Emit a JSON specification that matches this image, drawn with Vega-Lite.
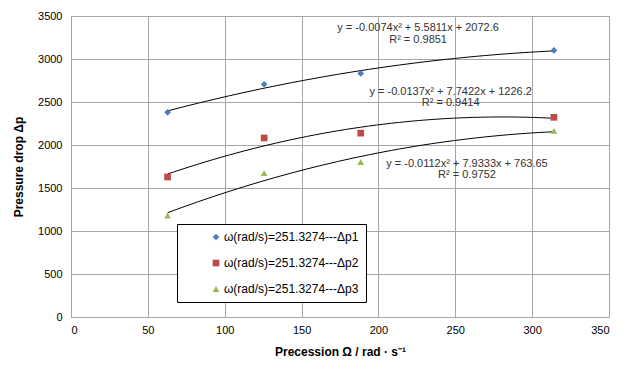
{
  "$schema": "https://vega.github.io/schema/vega-lite/v6.json",
  "width": 538,
  "height": 301,
  "autosize": {"type": "none"},
  "padding": {"left": 71, "top": 16, "right": 26, "bottom": 61},
  "background": "white",
  "config": {
    "font": "Liberation Sans",
    "view": {"stroke": "#8c8c8c", "strokeWidth": 1},
    "axis": {
      "domain": false,
      "ticks": false,
      "grid": true,
      "gridColor": "#a6a6a6",
      "gridWidth": 1,
      "labelFont": "Liberation Sans",
      "labelFontSize": 11,
      "labelColor": "#000",
      "titleFont": "Liberation Sans",
      "titleFontSize": 12,
      "titleFontWeight": "bold",
      "titleColor": "#000"
    }
  },
  "datasets": {
    "pts": [
      {"omega": 62.83, "dp": 2380, "series": "ω(rad/s)=251.3274---Δp1"},
      {"omega": 125.66, "dp": 2705, "series": "ω(rad/s)=251.3274---Δp1"},
      {"omega": 188.5, "dp": 2832, "series": "ω(rad/s)=251.3274---Δp1"},
      {"omega": 314.16, "dp": 3100, "series": "ω(rad/s)=251.3274---Δp1"},
      {"omega": 62.83, "dp": 1628, "series": "ω(rad/s)=251.3274---Δp2"},
      {"omega": 125.66, "dp": 2082, "series": "ω(rad/s)=251.3274---Δp2"},
      {"omega": 188.5, "dp": 2138, "series": "ω(rad/s)=251.3274---Δp2"},
      {"omega": 314.16, "dp": 2322, "series": "ω(rad/s)=251.3274---Δp2"},
      {"omega": 62.83, "dp": 1180, "series": "ω(rad/s)=251.3274---Δp3"},
      {"omega": 125.66, "dp": 1672, "series": "ω(rad/s)=251.3274---Δp3"},
      {"omega": 188.5, "dp": 1802, "series": "ω(rad/s)=251.3274---Δp3"},
      {"omega": 314.16, "dp": 2165, "series": "ω(rad/s)=251.3274---Δp3"}
    ],
    "labels": [
      {"x": 225.8, "y": 3360, "text": "y = -0.0074x² + 5.5811x + 2072.6"},
      {"x": 225.8, "y": 3221, "text": "R² = 0.9851"},
      {"x": 247, "y": 2616, "text": "y = -0.0137x² + 7.7422x + 1226.2"},
      {"x": 247, "y": 2488, "text": "R² = 0.9414"},
      {"x": 257.6, "y": 1779, "text": "y = -0.0112x² + 7.9333x + 763.65"},
      {"x": 257.6, "y": 1651, "text": "R² = 0.9752"}
    ]
  },
  "layer": [
    {
      "data": {"name": "pts"},
      "transform": [
        {"regression": "dp", "on": "omega", "groupby": ["series"], "method": "poly", "order": 2}
      ],
      "mark": {"type": "line", "color": "#000", "strokeWidth": 1},
      "encoding": {
        "x": {"field": "omega", "type": "quantitative"},
        "y": {"field": "dp", "type": "quantitative"},
        "detail": {"field": "series"}
      }
    },
    {
      "data": {"name": "pts"},
      "mark": {"type": "point", "filled": true, "opacity": 1, "size": 45},
      "encoding": {
        "x": {
          "field": "omega", "type": "quantitative",
          "scale": {"domain": [0, 350], "nice": false},
          "axis": {"values": [0, 50, 100, 150, 200, 250, 300, 350], "format": "d", "labelPadding": 7, "title": "Precession Ω / rad · s⁻¹", "titlePadding": 11}
        },
        "y": {
          "field": "dp", "type": "quantitative",
          "scale": {"domain": [0, 3500], "nice": false},
          "axis": {"values": [0, 500, 1000, 1500, 2000, 2500, 3000, 3500], "format": "d", "labelPadding": 9, "title": "Pressure drop Δp", "titlePadding": 12}
        },
        "color": {
          "field": "series", "type": "nominal",
          "scale": {"range": ["#4a7ebb", "#be4b48", "#98b954"]},
          "legend": {
            "title": null,
            "orient": "none",
            "legendX": 106,
            "legendY": 208,
            "strokeColor": "#000",
            "fillColor": "white",
            "padding": 7,
            "symbolOffset": 26,
            "labelOffset": 2,
            "rowPadding": 14,
            "labelFont": "Liberation Sans",
            "labelFontSize": 12,
            "labelColor": "#000",
            "symbolSize": 45
          }
        },
        "shape": {
          "field": "series", "type": "nominal",
          "scale": {"range": ["diamond", "square", "triangle-up"]}
        }
      }
    },
    {
      "data": {"name": "labels"},
      "mark": {"type": "text", "font": "Liberation Sans", "fontSize": 11, "color": "#333", "align": "center", "baseline": "middle"},
      "encoding": {
        "x": {"field": "x", "type": "quantitative"},
        "y": {"field": "y", "type": "quantitative"},
        "text": {"field": "text"}
      }
    }
  ]
}
